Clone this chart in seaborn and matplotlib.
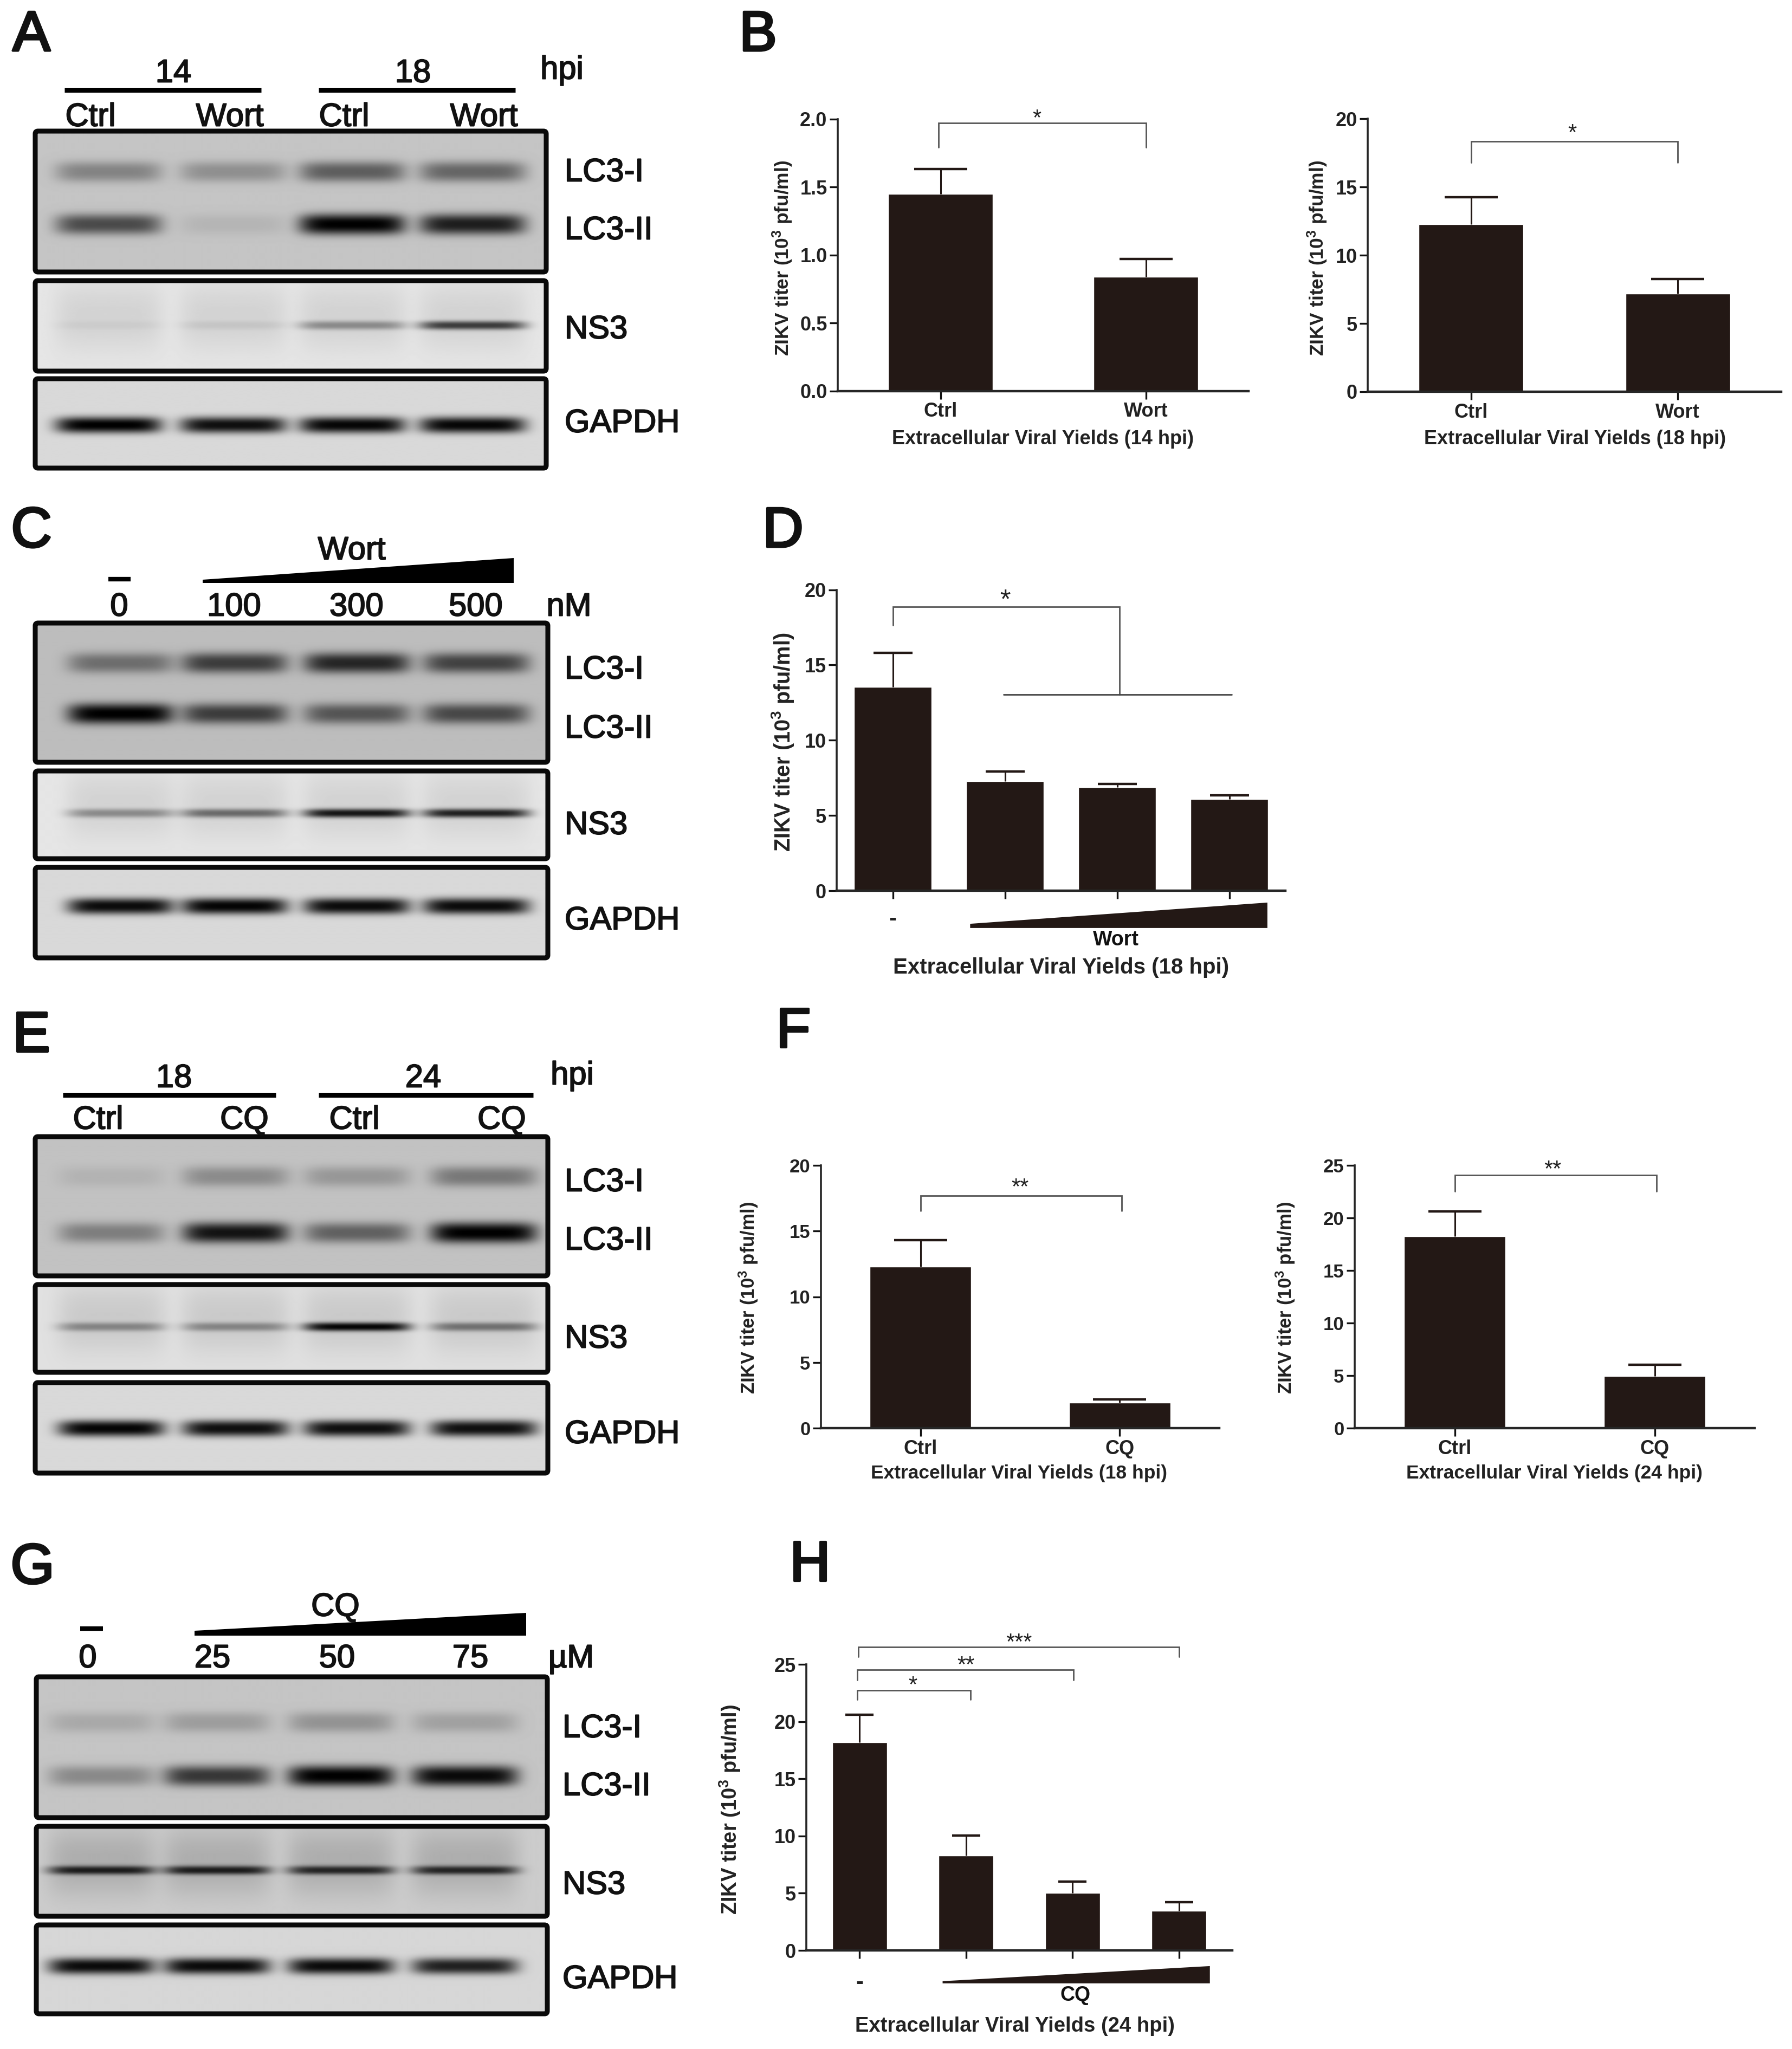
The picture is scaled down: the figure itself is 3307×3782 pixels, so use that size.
import numpy as np
import matplotlib
matplotlib.use('Agg')
import matplotlib.pyplot as plt
import matplotlib.patheffects as pe
import seaborn as sns
from matplotlib.patches import FancyBboxPatch

W, H = 3307, 3782
BAR = '#231815'

# bar chart values (mean, top of error bar)
b1_labels = ['Ctrl', 'Wort']
b1_mean = [1.45, 0.84]
b1_top = [1.63, 0.97]
b2_mean = [12.26, 7.19]
b2_top = [14.27, 8.25]

d_doses = ['-', '100', '300', '500']
d_mean = [13.55, 7.28, 6.86, 6.08]
d_top = [15.8, 7.93, 7.11, 6.34]

f_labels = ['Ctrl', 'CQ']
f1_mean = [12.3, 1.94]
f1_top = [14.3, 2.2]
f2_mean = [18.24, 4.96]
f2_top = [20.6, 6.02]

h_doses = ['-', '25', '50', '75']
h_mean = [18.16, 8.27, 5.0, 3.44]
h_top = [20.6, 10.04, 6.01, 4.22]

# blot band darkness per lane (0 = none, 1 = saturated)
a_lc3i = [0.33, 0.27, 0.52, 0.48]
a_lc3ii = [0.62, 0.08, 1.0, 0.85]
a_ns3 = [0.04, 0.07, 0.35, 0.72]
a_gapdh = [1.0, 0.93, 0.97, 0.97]

c_lc3i = [0.42, 0.68, 0.8, 0.65]
c_lc3ii = [1.0, 0.68, 0.55, 0.62]
c_ns3 = [0.35, 0.5, 0.9, 0.85]
c_gapdh = [0.95, 0.98, 0.95, 0.95]

e_lc3i = [0.08, 0.28, 0.22, 0.38]
e_lc3ii = [0.35, 0.9, 0.5, 1.0]
e_ns3 = [0.35, 0.35, 0.98, 0.45]
e_gapdh = [0.98, 0.93, 0.93, 0.93]

g_lc3i = [0.14, 0.2, 0.25, 0.18]
g_lc3ii = [0.3, 0.72, 1.0, 0.95]
g_ns3 = [0.85, 0.85, 0.8, 0.8]
g_gapdh = [0.95, 0.95, 0.95, 0.85]

sns.set_style('ticks')
plt.rcParams['font.family'] = ['Liberation Sans', 'DejaVu Sans']
plt.rcParams['mathtext.default'] = 'regular'

fig = plt.figure(figsize=(W / 100, H / 100), dpi=100, facecolor='white')
ov = fig.add_axes([0, 0, 1, 1], zorder=0)
ov.axis('off')


def label(x, y, s, size=43, stroke=1.4, **kw):
    kw.setdefault('ha', 'center')
    t = fig.text(x / W, 1 - (y + 4) / H, s, fontsize=size, va='center', color='#111111', zorder=5, **kw)
    if stroke:
        t.set_path_effects([pe.withStroke(linewidth=stroke, foreground='#111111')])


def band_layer(xx, yy, cx, cy, hw, sy, dark):
    return dark * np.exp(-np.abs((xx - cx) / hw) ** 6) * np.exp(-np.abs((yy - cy) / sy) ** 2.5)


def panel(x0, x1, y0, y1, bg, lanes, bands, smear=0):
    xs = np.arange(x0, x1, 2.0)
    ys = np.arange(y0, y1, 2.0)
    xx, yy = np.meshgrid(xs, ys)
    keep = np.ones_like(xx)
    for cy, sy, darks in bands:
        for cx, d in zip(lanes, darks):
            keep *= 1 - band_layer(xx, yy, cx, cy, 98, sy, d)
            if smear:
                # the pale haze above and around the NS3 band
                keep *= 1 - band_layer(xx, yy, cx, cy - 15, 100, 62, smear)
    ov.imshow(bg * keep, extent=(x0, x1, y1, y0), cmap='gray', vmin=0, vmax=1,
              aspect='auto', interpolation='bilinear')
    ov.add_patch(FancyBboxPatch((x0, y0), x1 - x0, y1 - y0, boxstyle='round,pad=0,rounding_size=5',
                                fc='none', ec='#0a0a0a', lw=6.5))


def blot(x0, x1, boxes, lanes, ys, data, names_x, names_y, bgs, smear):
    panel(x0, x1, boxes[0][0], boxes[0][1], bgs[0], lanes,
          [(ys[0], 19, data[0]), (ys[1], 19, data[1])])
    panel(x0, x1, boxes[1][0], boxes[1][1], bgs[1], lanes, [(ys[2], 8, data[2])], smear=smear)
    panel(x0, x1, boxes[2][0], boxes[2][1], bgs[2], lanes, [(ys[3], 15, data[3])])
    for s, y in zip(['LC3-I', 'LC3-II', 'NS3', 'GAPDH'], names_y):
        label(names_x, y - 4, s, ha='left')


def wedge(x0, x1, tip, bottom, top):
    ov.fill([x0, x1, x1, x0], [tip, top, bottom, bottom], color='#000000', lw=0)


def bars(rect, labels, mean, top, ymax, yticks, fmt, width, ylab, xlab, sizes):
    x0, xr, ytop, ybase = rect
    ax = fig.add_axes([x0 / W, 1 - ybase / H, (xr - x0) / W, (ybase - ytop) / H], zorder=2)
    ax.patch.set_alpha(0)
    sns.barplot(x=labels, y=mean, color=BAR, saturation=1, width=width, errorbar=None, ax=ax)
    n = len(mean)
    lower = np.zeros(n)
    upper = np.array(top) - np.array(mean)
    eb = ax.errorbar(range(n), mean, yerr=[lower, upper], fmt='none', ecolor=BAR,
                     elinewidth=2.2, capsize=sizes['cap'], capthick=3.2, clip_on=False)
    eb[1][0].set_visible(False)
    ax.set_xlim(-0.5, n - 0.5)
    ax.set_ylim(0, ymax)
    ax.set_yticks(yticks)
    ax.set_yticklabels([fmt % t for t in yticks], fontsize=sizes['tick'], fontweight='bold', color='#222222')
    ax.tick_params(axis='y', length=11, width=2.4, pad=3, color='#111111')
    ax.tick_params(axis='x', length=11, width=2.4, pad=sizes.get('pad', 4), color='#111111', labelsize=sizes['cat'])
    for t in ax.get_xticklabels():
        t.set_fontweight('bold')
        t.set_color('#222222')
    sns.despine(ax=ax)
    ax.spines['left'].set_linewidth(2.6)
    ax.spines['bottom'].set_linewidth(3.2)
    ax.set_ylabel(ylab[0], fontsize=sizes['ylab'], fontweight='bold', color='#222222', va='center')
    ax.yaxis.set_label_coords(ylab[1] / W, 1 - ylab[2] / H, transform=fig.transFigure)
    ax.set_xlabel(xlab[0], fontsize=sizes['xlab'], fontweight='bold', color='#222222', va='center')
    ax.xaxis.set_label_coords(xlab[1] / W, 1 - xlab[2] / H, transform=fig.transFigure)
    return ax


def bracket(ax, x0, x1, y, d0, d1, stars, sx, sy, size=30, drop=-6):
    ax.plot([x0, x0, x1, x1], [d0, y, y, d1], color='#555555', lw=2, clip_on=False, solid_joinstyle='miter')
    ax.annotate(stars, (sx, sy), xytext=(0, drop), textcoords='offset points', ha='center', va='center',
                fontsize=size, color='#222222', annotation_clip=False)


YL = 'ZIKV titer (10$^{3}$ pfu/ml)'

# panel A
blot(65, 1008, [(242, 502), (518, 685), (699, 864)], [200, 430, 650, 872], [316, 413, 600, 784],
     [a_lc3i, a_lc3ii, a_ns3, a_gapdh], 1042, [319, 426, 609, 782], (0.77, 0.9, 0.85), 0.08)
ov.plot([119, 482], [166, 166], color='k', lw=6.5, solid_capstyle='butt')
ov.plot([588, 951], [166, 166], color='k', lw=6.5, solid_capstyle='butt')
label(320, 132, '14')
label(762, 132, '18')
label(1037, 126, 'hpi')
for x, s in zip([167, 424, 635, 893], ['Ctrl', 'Wort', 'Ctrl', 'Wort']):
    label(x, 213, s)

# panel C
blot(65, 1011, [(1150, 1407), (1423, 1585), (1601, 1768)], [222, 432, 658, 878], [1223, 1317, 1500, 1672],
     [c_lc3i, c_lc3ii, c_ns3, c_gapdh], 1042, [1237, 1346, 1524, 1700], (0.74, 0.9, 0.85), 0.08)
ov.plot([200, 241], [1069, 1069], color='k', lw=6, solid_capstyle='butt')
wedge(374, 948, 1070, 1076, 1030)
label(649, 1013, 'Wort')
for x, s in zip([220, 432, 658, 878, 1050], ['0', '100', '300', '500', 'nM']):
    label(x, 1117, s)

# panel E
blot(65, 1011, [(2098, 2355), (2371, 2533), (2552, 2719)], [205, 434, 658, 892], [2171, 2275, 2448, 2636],
     [e_lc3i, e_lc3ii, e_ns3, e_gapdh], 1042, [2183, 2291, 2472, 2648], (0.76, 0.88, 0.85), 0.1)
ov.plot([116, 509], [2021, 2021], color='k', lw=6.5, solid_capstyle='butt')
ov.plot([588, 984], [2021, 2021], color='k', lw=6.5, solid_capstyle='butt')
label(321, 1987, '18')
label(781, 1987, '24')
label(1056, 1982, 'hpi')
for x, s in zip([181, 451, 654, 926], ['Ctrl', 'CQ', 'Ctrl', 'CQ']):
    label(x, 2064, s)

# panel G
blot(67, 1010, [(3095, 3355), (3371, 3537), (3553, 3717)], [187, 400, 629, 858], [3178, 3277, 3451, 3628],
     [g_lc3i, g_lc3ii, g_ns3, g_gapdh], 1038, [3191, 3298, 3480, 3654], (0.77, 0.8, 0.84), 0.15)
ov.plot([148, 190], [3006, 3006], color='k', lw=6, solid_capstyle='butt')
wedge(359, 971, 3010, 3019, 2977)
label(619, 2963, 'CQ')
for x, s in zip([162, 392, 622, 868, 1054], ['0', '25', '50', '75', '\u00b5M']):
    label(x, 3058, s)

ov.set_xlim(0, W)
ov.set_ylim(H, 0)

# panel B
small = dict(tick=26, cat=26, ylab=25.5, xlab=26, cap=35)
ax = bars((1546, 2304, 219.5, 721.6), b1_labels, b1_mean, b1_top, 2.0, [0, 0.5, 1.0, 1.5, 2.0], '%.1f', 0.51,
          (YL, 1444, 476), ('Extracellular Viral Yields (14 hpi)', 1925, 810), small)
bracket(ax, -0.01, 1.0, 1.97, 1.79, 1.79, '*', 0.47, 2.03)
ax = bars((2524, 3287, 219.5, 723), b1_labels, b2_mean, b2_top, 20, [0, 5, 10, 15, 20], '%d', 0.506,
          (YL, 2431, 476), ('Extracellular Viral Yields (18 hpi)', 2906, 810), small)
bracket(ax, 0, 1.0, 18.36, 16.81, 16.81, '*', 0.49, 19.0, drop=-2)

# panel D
big = dict(tick=26, cat=30, ylab=28.5, xlab=29, cap=26, pad=13)
ax = bars((1544, 2372, 1088.5, 1644), d_doses, d_mean, d_top, 20, [0, 5, 10, 15, 20], '%d', 0.688,
          (YL, 1445, 1370), ('Extracellular Viral Yields (18 hpi)', 1958, 1786), big)
ax.set_xticks(range(4))
ax.set_xticklabels(['-', '', '', ''], fontweight='bold')
bracket(ax, 0, 2.02, 18.87, 17.65, 13.05, '*', 1.0, 19.75, size=36, drop=-10)
ax.plot([0.99, 3.02], [13.05, 13.05], color='#444444', lw=2, clip_on=False)
ax.fill([0.69, 3.34, 3.34, 0.69], [-2.2, -0.79, -2.48, -2.48], color=BAR, lw=0, clip_on=False)
label(2059, 1731, 'Wort', size=27, stroke=0, fontweight='bold')

# panel F
small2 = dict(tick=25, cat=26, ylab=25, xlab=25.5, cap=35)
ax = bars((1515, 2250, 2151, 2636), f_labels, f1_mean, f1_top, 20, [0, 5, 10, 15, 20], '%d', 0.508,
          (YL, 1381, 2396), ('Extracellular Viral Yields (18 hpi)', 1881, 2720), small2)
bracket(ax, 0, 1.01, 17.7, 16.54, 16.54, '**', 0.5, 18.6)
ax = bars((2500, 3238, 2151, 2636), f_labels, f2_mean, f2_top, 25, [0, 5, 10, 15, 20, 25], '%d', 0.508,
          (YL, 2372, 2396), ('Extracellular Viral Yields (24 hpi)', 2868, 2720), small2)
bracket(ax, 0, 1.01, 24.07, 22.53, 22.53, '**', 0.49, 24.95)

# panel H
big2 = dict(tick=26, cat=30, ylab=27.4, xlab=27.5, cap=19, pad=18)
ax = bars((1488, 2274, 3072, 3600), h_doses, h_mean, h_top, 25, [0, 5, 10, 15, 20, 25], '%d', 0.514,
          (YL, 1347, 3340), ('Extracellular Viral Yields (24 hpi)', 1873, 3740), big2)
ax.set_xticks(range(4))
ax.set_xticklabels(['-', '', '', ''], fontweight='bold')
bracket(ax, -0.01, 3.0, 26.5, 25.66, 25.66, '***', 1.5, 27.25)
bracket(ax, -0.02, 2.01, 24.53, 23.63, 23.63, '**', 1.0, 25.25)
bracket(ax, -0.02, 1.04, 22.73, 21.93, 21.93, '*', 0.5, 23.5)
ax.fill([0.78, 3.29, 3.29, 0.78], [-2.69, -1.37, -2.88, -2.88], color=BAR, lw=0, clip_on=False)
label(1985, 3679, 'CQ', size=27, stroke=0, fontweight='bold')

# panel letters
for s, x, y in [('A', 58, 63), ('B', 1399, 63), ('C', 58, 979), ('D', 1445, 979),
                ('E', 58, 1910), ('F', 1464, 1903), ('G', 60, 2892), ('H', 1495, 2887)]:
    label(x, y, s, size=75, stroke=3)

plt.savefig('out.png', dpi=100)
plt.close()
